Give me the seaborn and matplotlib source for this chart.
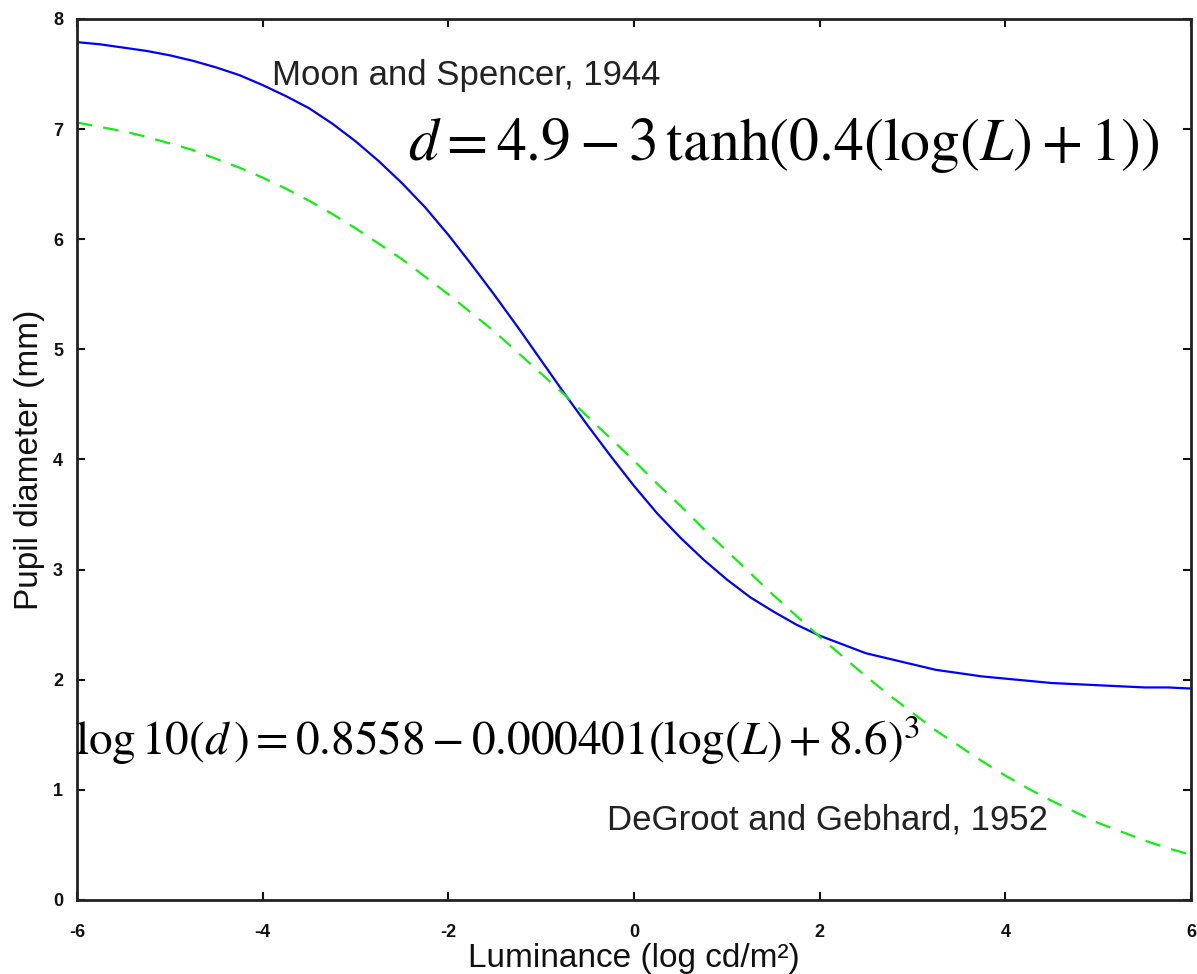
import numpy as np
import pandas as pd
import matplotlib
matplotlib.use("Agg")
import matplotlib.pyplot as plt
import seaborn as sns

# Luminance (log cd/m^2) sample positions
luminance = [-6.0, -5.75, -5.5, -5.25, -5.0, -4.75, -4.5, -4.25, -4.0, -3.75, -3.5, -3.25,
             -3.0, -2.75, -2.5, -2.25, -2.0, -1.75, -1.5, -1.25, -1.0, -0.75, -0.5, -0.25,
             0.0, 0.25, 0.5, 0.75, 1.0, 1.25, 1.5, 1.75, 2.0, 2.25, 2.5, 2.75,
             3.0, 3.25, 3.5, 3.75, 4.0, 4.25, 4.5, 4.75, 5.0, 5.25, 5.5, 5.75, 6.0]
# Moon and Spencer, 1944 (pupil diameter, mm)
moon_spencer = [7.79, 7.77, 7.74, 7.71, 7.67, 7.62, 7.56, 7.49, 7.40, 7.30, 7.19, 7.05,
                6.89, 6.71, 6.51, 6.29, 6.04, 5.77, 5.49, 5.20, 4.90, 4.60, 4.31, 4.03,
                3.76, 3.51, 3.29, 3.09, 2.91, 2.75, 2.62, 2.50, 2.40, 2.32, 2.24, 2.19,
                2.14, 2.09, 2.06, 2.03, 2.01, 1.99, 1.97, 1.96, 1.95, 1.94, 1.93, 1.93, 1.92]
# DeGroot and Gebhard, 1952 (pupil diameter, mm)
degroot_gebhard = [7.06, 7.02, 6.98, 6.93, 6.87, 6.81, 6.73, 6.65, 6.56, 6.46, 6.35, 6.23,
                   6.10, 5.96, 5.82, 5.66, 5.50, 5.33, 5.16, 4.97, 4.78, 4.59, 4.39, 4.19,
                   3.99, 3.78, 3.58, 3.37, 3.17, 2.97, 2.77, 2.58, 2.39, 2.21, 2.03, 1.86,
                   1.70, 1.54, 1.40, 1.26, 1.13, 1.01, 0.90, 0.80, 0.70, 0.62, 0.54, 0.47, 0.41]

x_ticks = [-6, -4, -2, 0, 2, 4, 6]
y_ticks = [0, 1, 2, 3, 4, 5, 6, 7, 8]

sns.set_theme(style="ticks")
plt.rcParams['font.family'] = ['Liberation Sans', 'DejaVu Sans']
plt.rcParams['mathtext.fontset'] = 'stix'

df = pd.DataFrame({
    "L": luminance * 2,
    "d": moon_spencer + degroot_gebhard,
    "series": ["Moon and Spencer, 1944"] * len(luminance) + ["DeGroot and Gebhard, 1952"] * len(luminance),
})

fig = plt.figure(figsize=(11.97, 9.74), dpi=100)
ax = fig.add_axes([0.0643, 0.076, 0.9307, 0.9045])

sns.lineplot(data=df, x="L", y="d", hue="series", style="series",
             palette={"Moon and Spencer, 1944": "#0000ff", "DeGroot and Gebhard, 1952": "#11ee11"},
             dashes={"Moon and Spencer, 1944": "", "DeGroot and Gebhard, 1952": (7, 5)},
             linewidth=1.6, legend=False, ax=ax)

ax.set_xlim(-6, 6)
ax.set_ylim(0, 8)
ax.set_xticks(x_ticks)
ax.set_yticks(y_ticks)
ax.set_xticklabels([str(t) for t in x_ticks], fontsize=13, fontweight='bold')
ax.set_yticklabels([str(t) for t in y_ticks], fontsize=13, fontweight='bold')
ax.tick_params(direction='in', top=True, right=True, length=6, width=1.5, colors='#111111')
ax.tick_params(axis='x', pad=17)
ax.tick_params(axis='y', pad=10)
for s in ax.spines.values():
    s.set_visible(True)
    s.set_linewidth(2.0)
    s.set_color('#222222')

ax.set_xlabel("Luminance (log cd/m²)", fontsize=24, labelpad=2, color='#111111')
ax.set_ylabel("Pupil diameter (mm)", fontsize=24, labelpad=6, color='#111111')

ax.text(-3.90, 7.49, "Moon and Spencer, 1944", fontsize=25, va='center', ha='left', color='#222222')
ax.text(-0.29, 0.73, "DeGroot and Gebhard, 1952", fontsize=25, va='center', ha='left', color='#222222')
ax.text(-2.43, 6.86, r"$d = 4.9 - 3\,\mathrm{tanh}(0.4(\mathrm{log}(L) + 1))$",
        fontsize=43, va='center', ha='left', color='black')
ax.text(-6.02, 1.45, r"$\mathrm{log}\,10(d\,) = 0.8558 - 0.000401(\mathrm{log}(L) + 8.6)^3$",
        fontsize=34, va='center', ha='left', color='black', clip_on=False)

fig.savefig("out.png", dpi=100, facecolor='white')
